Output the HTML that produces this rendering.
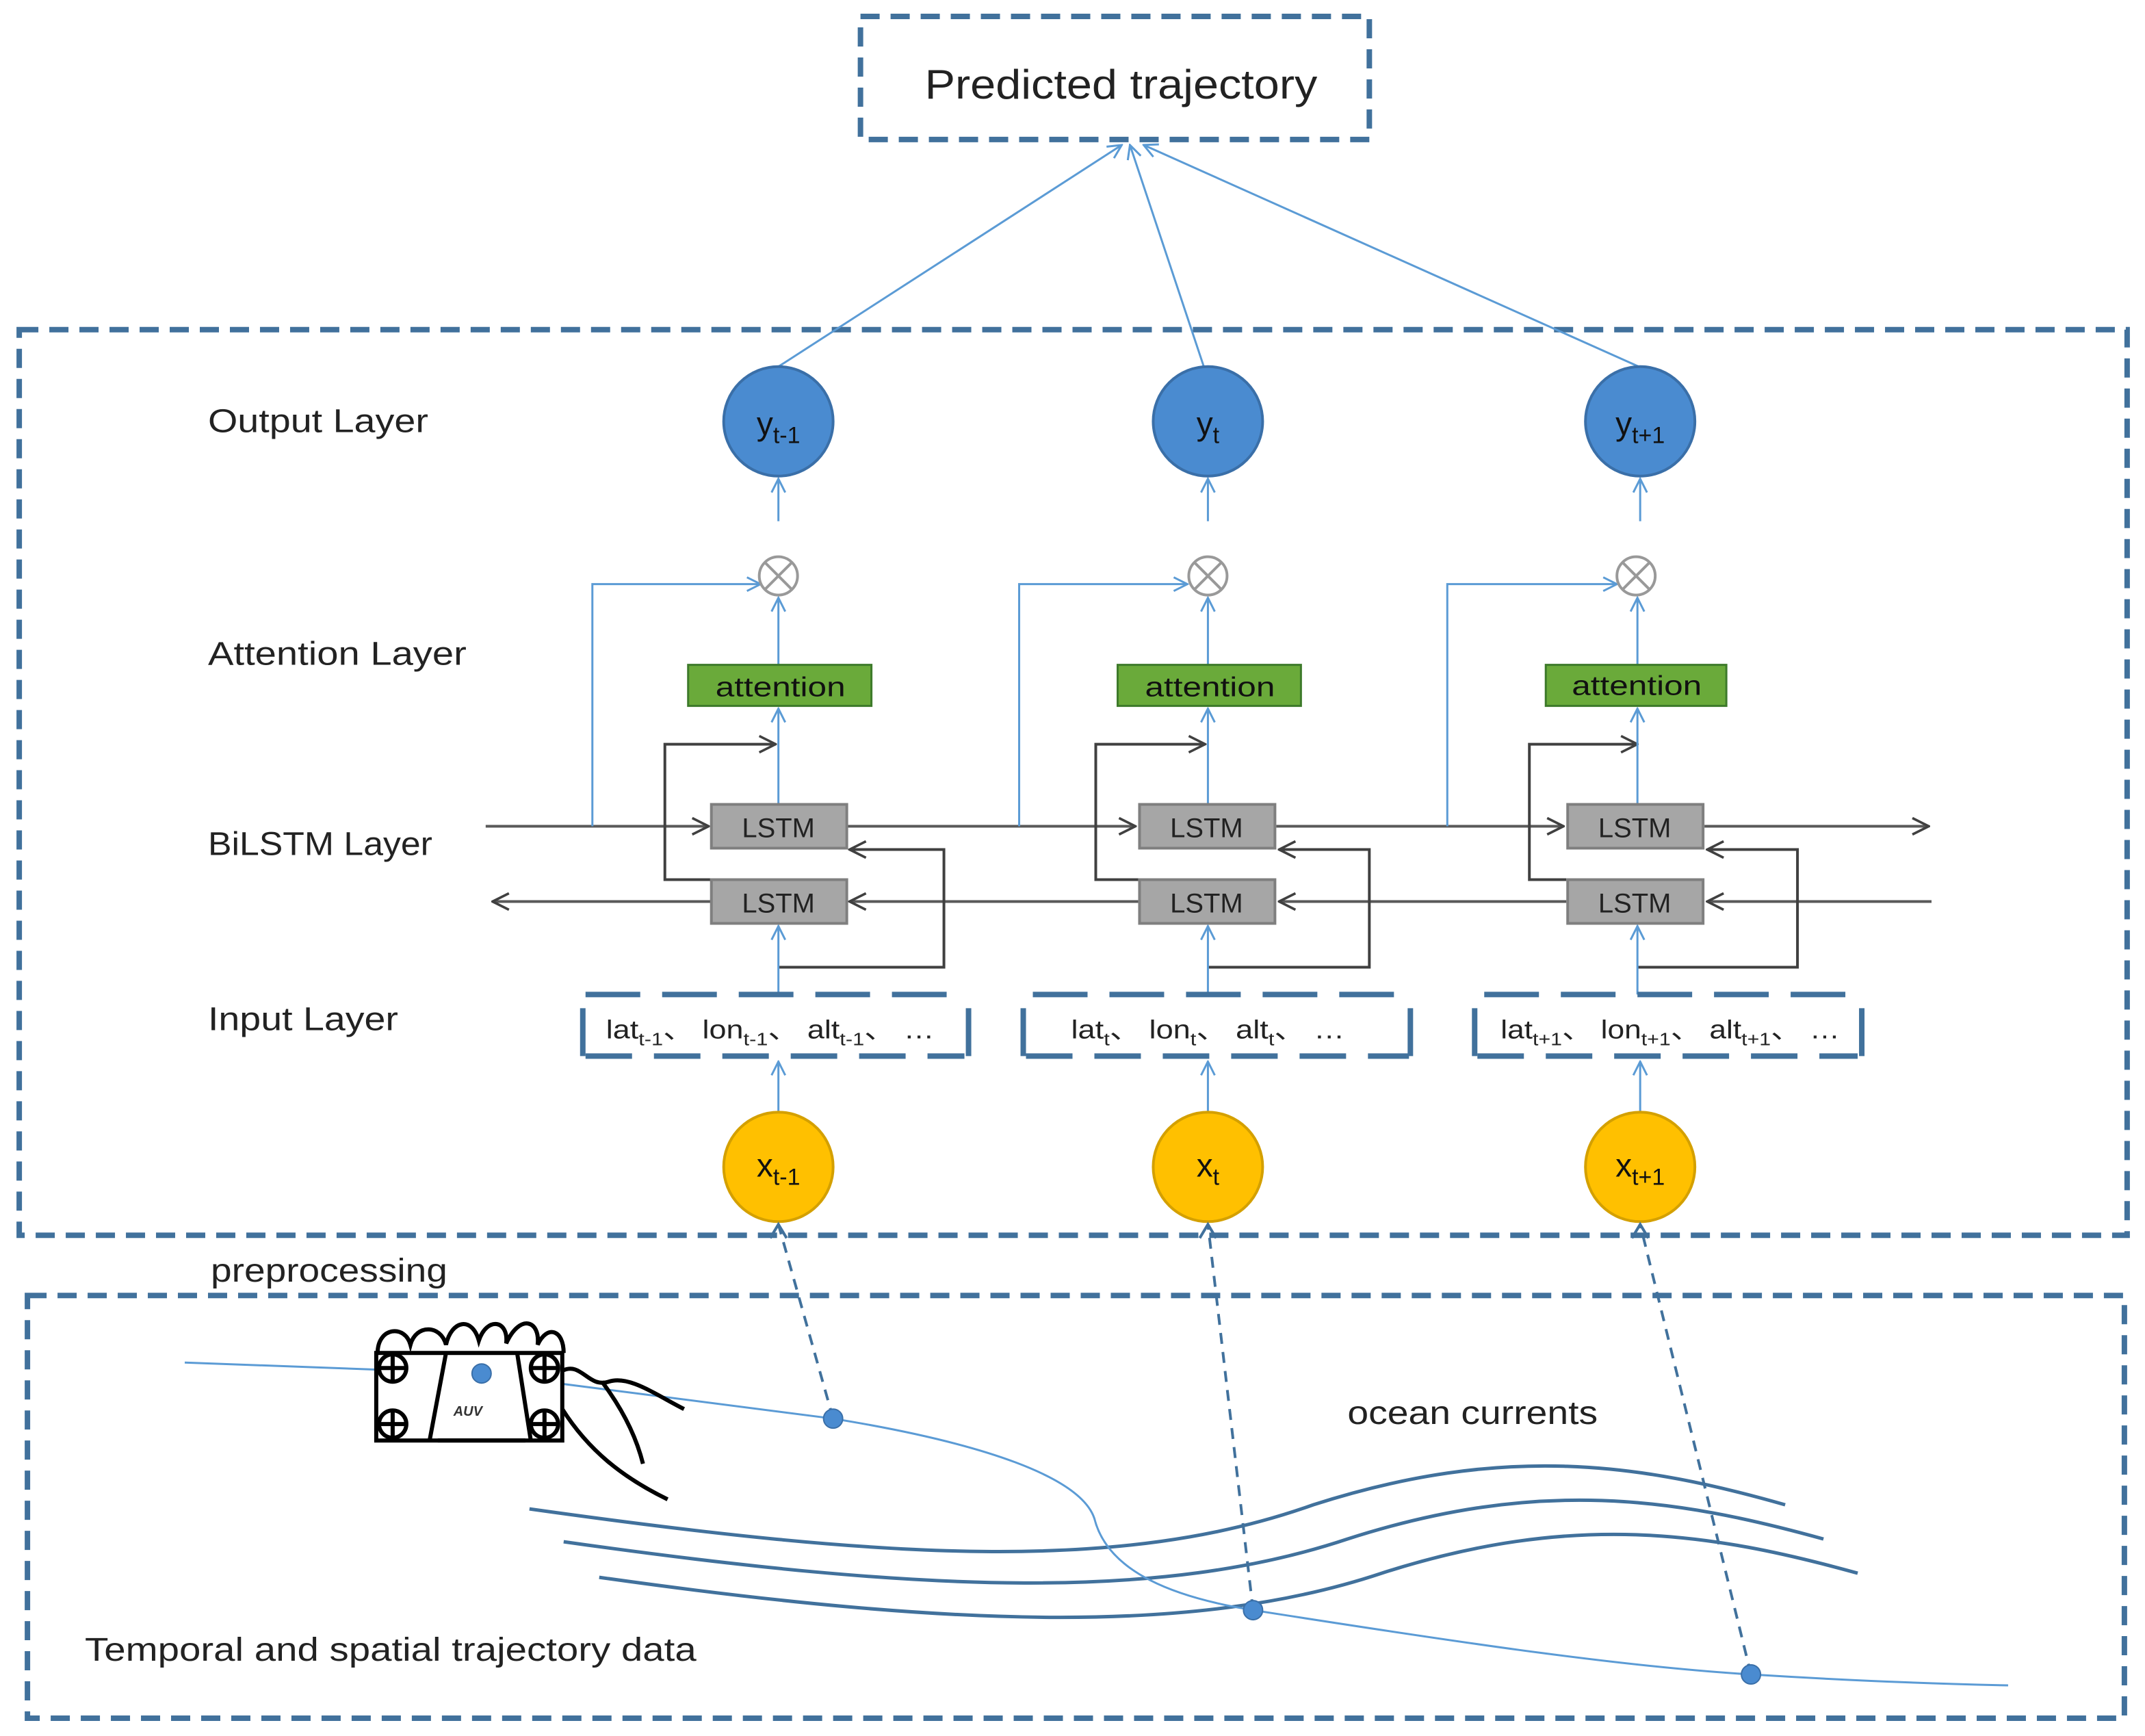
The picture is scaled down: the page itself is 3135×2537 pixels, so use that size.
<!DOCTYPE html>
<html><head><meta charset="utf-8"><style>html,body{margin:0;padding:0;background:#fff}svg{display:block}</style></head><body>
<svg width="3135" height="2537" viewBox="0 0 1568 1269" xmlns="http://www.w3.org/2000/svg" font-family="Liberation Sans, sans-serif">
<defs>
<marker id="ab" viewBox="0 0 12 12" refX="11" refY="6" markerWidth="12" markerHeight="12" orient="auto" markerUnits="userSpaceOnUse"><path d="M1,1 L11,6 L1,11" fill="none" stroke="#5b9bd5" stroke-width="1.5"/></marker>
<marker id="ak" viewBox="0 0 14 14" refX="13" refY="7" markerWidth="14" markerHeight="14" orient="auto" markerUnits="userSpaceOnUse"><path d="M1,1 L13,7 L1,13" fill="none" stroke="#404040" stroke-width="1.8"/></marker>
</defs>
<rect width="1568" height="1269" fill="#fff"/>
<g fill="none" stroke="#41719c" stroke-width="4" stroke-dasharray="14,8">
<rect x="629" y="12" width="372" height="90"/>
<rect x="14" y="241" width="1541" height="662"/>
<rect x="20" y="947" width="1533" height="309"/>
</g>
<text x="676" y="72" font-size="30" fill="#222" textLength="287" lengthAdjust="spacingAndGlyphs">Predicted trajectory</text>
<g stroke="#5b9bd5" stroke-width="1.5" fill="none">
<line x1="569" y1="268" x2="820" y2="106" marker-end="url(#ab)"/>
<line x1="880" y1="268" x2="826" y2="106" marker-end="url(#ab)"/>
<line x1="1198" y1="268" x2="836" y2="106" marker-end="url(#ab)"/>
</g>
<g font-size="24" fill="#222" lengthAdjust="spacingAndGlyphs">
<text x="152" y="316" textLength="161" lengthAdjust="spacingAndGlyphs">Output Layer</text>
<text x="152" y="486" textLength="189" lengthAdjust="spacingAndGlyphs">Attention Layer</text>
<text x="152" y="625" textLength="164" lengthAdjust="spacingAndGlyphs">BiLSTM Layer</text>
<text x="152" y="753" textLength="139" lengthAdjust="spacingAndGlyphs">Input Layer</text>
<text x="154" y="937" textLength="173" lengthAdjust="spacingAndGlyphs">preprocessing</text>
<text x="985" y="1041" textLength="183" lengthAdjust="spacingAndGlyphs">ocean currents</text>
<text x="62" y="1214" textLength="447" lengthAdjust="spacingAndGlyphs">Temporal and spatial trajectory data</text>
</g>
<g stroke="#595959" stroke-width="2" fill="none">
<line x1="355" y1="604" x2="518" y2="604" marker-end="url(#ak)"/>
<line x1="619" y1="604" x2="830" y2="604" marker-end="url(#ak)"/>
<line x1="933" y1="604" x2="1143" y2="604" marker-end="url(#ak)"/>
<line x1="1246" y1="604" x2="1410" y2="604" marker-end="url(#ak)"/>
<line x1="1412" y1="659" x2="1248" y2="659" marker-end="url(#ak)"/>
<line x1="1145" y1="659" x2="935" y2="659" marker-end="url(#ak)"/>
<line x1="832" y1="659" x2="621" y2="659" marker-end="url(#ak)"/>
<line x1="520" y1="659" x2="360" y2="659" marker-end="url(#ak)"/>
</g>
<g id="c1">
<path d="M433,604 V427 H556" stroke="#5b9bd5" stroke-width="1.5" fill="none" marker-end="url(#ab)"/>
<path d="M520,643 H486 V544 H567" stroke="#404040" stroke-width="2" fill="none" marker-end="url(#ak)"/>
<path d="M569,707 H690 V621 H621" stroke="#404040" stroke-width="2" fill="none" marker-end="url(#ak)"/>
<g stroke="#5b9bd5" stroke-width="1.5" fill="none">
<line x1="569" y1="381" x2="569" y2="350" marker-end="url(#ab)"/>
<line x1="569" y1="486" x2="569" y2="437" marker-end="url(#ab)"/>
<line x1="569" y1="588" x2="569" y2="518" marker-end="url(#ab)"/>
<line x1="569" y1="727" x2="569" y2="677" marker-end="url(#ab)"/>
<line x1="569" y1="813" x2="569" y2="776" marker-end="url(#ab)"/>
</g>
<circle cx="569" cy="308" r="40" fill="#4a8bd0" stroke="#3a6fa8" stroke-width="2"/>
<text x="569" y="318" font-size="24" text-anchor="middle" fill="#111">y<tspan font-size="17" dy="6">t-1</tspan></text>
<circle cx="569" cy="421" r="14" fill="#fff" stroke="#999" stroke-width="2"/>
<path d="M559,411 L579,431 M579,411 L559,431" stroke="#999" stroke-width="2"/>
<rect x="503" y="486" width="134" height="30" fill="#6aaa3a" stroke="#3d7a2a" stroke-width="1.5"/>
<text x="523" y="509" font-size="20" fill="#111" textLength="95" lengthAdjust="spacingAndGlyphs">attention</text>
<rect x="520" y="588" width="99" height="32" fill="#a6a6a6" stroke="#7f7f7f" stroke-width="2"/>
<text x="569" y="612" font-size="20" text-anchor="middle" fill="#222">LSTM</text>
<rect x="520" y="643" width="99" height="32" fill="#a6a6a6" stroke="#7f7f7f" stroke-width="2"/>
<text x="569" y="667" font-size="20" text-anchor="middle" fill="#222">LSTM</text>
<g fill="none" stroke="#41719c" stroke-width="4">
<line x1="428" y1="727" x2="705" y2="727" stroke-dasharray="40,16"/>
<line x1="428" y1="772" x2="705" y2="772" stroke-dasharray="34,16"/>
<line x1="426" y1="737" x2="426" y2="772"/>
<line x1="708" y1="737" x2="708" y2="772"/>
</g>
<text x="443" y="759" font-size="19" fill="#222" textLength="240" lengthAdjust="spacingAndGlyphs">lat<tspan font-size="13" dy="5">t-1</tspan><tspan dy="-5">、 lon</tspan><tspan font-size="13" dy="5">t-1</tspan><tspan dy="-5">、 alt</tspan><tspan font-size="13" dy="5">t-1</tspan><tspan dy="-5">、  …</tspan></text>
<circle cx="569" cy="853" r="40" fill="#ffc000" stroke="#d4a000" stroke-width="2"/>
<text x="569" y="860" font-size="24" text-anchor="middle" fill="#111">x<tspan font-size="17" dy="6">t-1</tspan></text>
</g>
<g id="c2">
<path d="M745,604 V427 H868" stroke="#5b9bd5" stroke-width="1.5" fill="none" marker-end="url(#ab)"/>
<path d="M832,643 H801 V544 H881" stroke="#404040" stroke-width="2" fill="none" marker-end="url(#ak)"/>
<path d="M883,707 H1001 V621 H935" stroke="#404040" stroke-width="2" fill="none" marker-end="url(#ak)"/>
<g stroke="#5b9bd5" stroke-width="1.5" fill="none">
<line x1="883" y1="381" x2="883" y2="350" marker-end="url(#ab)"/>
<line x1="883" y1="486" x2="883" y2="437" marker-end="url(#ab)"/>
<line x1="883" y1="588" x2="883" y2="518" marker-end="url(#ab)"/>
<line x1="883" y1="727" x2="883" y2="677" marker-end="url(#ab)"/>
<line x1="883" y1="813" x2="883" y2="776" marker-end="url(#ab)"/>
</g>
<circle cx="883" cy="308" r="40" fill="#4a8bd0" stroke="#3a6fa8" stroke-width="2"/>
<text x="883" y="318" font-size="24" text-anchor="middle" fill="#111">y<tspan font-size="17" dy="6">t</tspan></text>
<circle cx="883" cy="421" r="14" fill="#fff" stroke="#999" stroke-width="2"/>
<path d="M873,411 L893,431 M893,411 L873,431" stroke="#999" stroke-width="2"/>
<rect x="817" y="486" width="134" height="30" fill="#6aaa3a" stroke="#3d7a2a" stroke-width="1.5"/>
<text x="837" y="509" font-size="20" fill="#111" textLength="95" lengthAdjust="spacingAndGlyphs">attention</text>
<rect x="833" y="588" width="99" height="32" fill="#a6a6a6" stroke="#7f7f7f" stroke-width="2"/>
<text x="882" y="612" font-size="20" text-anchor="middle" fill="#222">LSTM</text>
<rect x="833" y="643" width="99" height="32" fill="#a6a6a6" stroke="#7f7f7f" stroke-width="2"/>
<text x="882" y="667" font-size="20" text-anchor="middle" fill="#222">LSTM</text>
<g fill="none" stroke="#41719c" stroke-width="4">
<line x1="755" y1="727" x2="1030" y2="727" stroke-dasharray="40,16"/>
<line x1="750" y1="772" x2="1030" y2="772" stroke-dasharray="34,16"/>
<line x1="748" y1="737" x2="748" y2="772"/>
<line x1="1031" y1="737" x2="1031" y2="772"/>
</g>
<text x="783" y="759" font-size="19" fill="#222" textLength="200" lengthAdjust="spacingAndGlyphs">lat<tspan font-size="13" dy="5">t</tspan><tspan dy="-5">、 lon</tspan><tspan font-size="13" dy="5">t</tspan><tspan dy="-5">、 alt</tspan><tspan font-size="13" dy="5">t</tspan><tspan dy="-5">、  …</tspan></text>
<circle cx="883" cy="853" r="40" fill="#ffc000" stroke="#d4a000" stroke-width="2"/>
<text x="883" y="860" font-size="24" text-anchor="middle" fill="#111">x<tspan font-size="17" dy="6">t</tspan></text>
</g>
<g id="c3">
<path d="M1058,604 V427 H1182" stroke="#5b9bd5" stroke-width="1.5" fill="none" marker-end="url(#ab)"/>
<path d="M1145,643 H1118 V544 H1197" stroke="#404040" stroke-width="2" fill="none" marker-end="url(#ak)"/>
<path d="M1197,707 H1314 V621 H1248" stroke="#404040" stroke-width="2" fill="none" marker-end="url(#ak)"/>
<g stroke="#5b9bd5" stroke-width="1.5" fill="none">
<line x1="1199" y1="381" x2="1199" y2="350" marker-end="url(#ab)"/>
<line x1="1197" y1="486" x2="1197" y2="437" marker-end="url(#ab)"/>
<line x1="1197" y1="588" x2="1197" y2="518" marker-end="url(#ab)"/>
<line x1="1197" y1="727" x2="1197" y2="677" marker-end="url(#ab)"/>
<line x1="1199" y1="813" x2="1199" y2="776" marker-end="url(#ab)"/>
</g>
<circle cx="1199" cy="308" r="40" fill="#4a8bd0" stroke="#3a6fa8" stroke-width="2"/>
<text x="1199" y="318" font-size="24" text-anchor="middle" fill="#111">y<tspan font-size="17" dy="6">t+1</tspan></text>
<circle cx="1196" cy="421" r="14" fill="#fff" stroke="#999" stroke-width="2"/>
<path d="M1186,411 L1206,431 M1206,411 L1186,431" stroke="#999" stroke-width="2"/>
<rect x="1130" y="486" width="132" height="30" fill="#6aaa3a" stroke="#3d7a2a" stroke-width="1.5"/>
<text x="1149" y="508" font-size="20" fill="#111" textLength="95" lengthAdjust="spacingAndGlyphs">attention</text>
<rect x="1146" y="588" width="99" height="32" fill="#a6a6a6" stroke="#7f7f7f" stroke-width="2"/>
<text x="1195" y="612" font-size="20" text-anchor="middle" fill="#222">LSTM</text>
<rect x="1146" y="643" width="99" height="32" fill="#a6a6a6" stroke="#7f7f7f" stroke-width="2"/>
<text x="1195" y="667" font-size="20" text-anchor="middle" fill="#222">LSTM</text>
<g fill="none" stroke="#41719c" stroke-width="4">
<line x1="1085" y1="727" x2="1358" y2="727" stroke-dasharray="40,16"/>
<line x1="1080" y1="772" x2="1358" y2="772" stroke-dasharray="34,16"/>
<line x1="1078" y1="737" x2="1078" y2="772"/>
<line x1="1361" y1="737" x2="1361" y2="772"/>
</g>
<text x="1097" y="759" font-size="19" fill="#222" textLength="248" lengthAdjust="spacingAndGlyphs">lat<tspan font-size="13" dy="5">t+1</tspan><tspan dy="-5">、 lon</tspan><tspan font-size="13" dy="5">t+1</tspan><tspan dy="-5">、 alt</tspan><tspan font-size="13" dy="5">t+1</tspan><tspan dy="-5">、 …</tspan></text>
<circle cx="1199" cy="853" r="40" fill="#ffc000" stroke="#d4a000" stroke-width="2"/>
<text x="1199" y="860" font-size="24" text-anchor="middle" fill="#111">x<tspan font-size="17" dy="6">t+1</tspan></text>
</g>
<g stroke="#41719c" stroke-width="2" stroke-dasharray="8,6" fill="none">
<line x1="609" y1="1037" x2="569" y2="895"/>
<line x1="916" y1="1177" x2="883" y2="895"/>
<line x1="1280" y1="1224" x2="1199" y2="895"/>
</g>
<g stroke="#41719c" stroke-width="2" fill="none">
<path d="M563,905 L569,895 L575,905"/><path d="M877,905 L883,895 L889,905"/><path d="M1193,905 L1199,895 L1205,905"/>
</g>
<g stroke="#41719c" stroke-width="2.5" fill="none">
<path d="M387,1103 C650,1140 820,1150 960,1100 C1100,1055 1200,1070 1305,1100"/>
<path d="M412,1127 C680,1165 850,1170 985,1125 C1125,1080 1225,1095 1333,1125"/>
<path d="M438,1153 C700,1190 875,1195 1010,1150 C1150,1105 1250,1120 1358,1150"/>
</g>
<path d="M135,996 L352,1004 L609,1037 C720,1055 790,1080 800,1110 C810,1150 860,1168 916,1177 C1050,1198 1180,1218 1280,1224 C1360,1229 1420,1231 1468,1232" stroke="#5b9bd5" stroke-width="1.5" fill="none"/>
<g fill="#4a8bd0" stroke="#3a6fa8" stroke-width="1"><circle cx="609" cy="1037" r="7"/><circle cx="916" cy="1177" r="7"/><circle cx="1280" cy="1224" r="7"/></g>
<g stroke="#000" stroke-width="3" fill="none">
<path d="M276,989 C276,970 296,968 300,983 C304,968 322,968 326,983 C330,965 345,962 350,980 C356,962 372,965 370,982 C380,960 395,965 393,983 C400,968 412,972 412,989"/>
<rect x="275" y="989" width="136" height="64" fill="#fff"/>
<path d="M326,989 L314,1053 M378,989 L388,1053 M320,1053 L384,1053"/>
<circle cx="287" cy="1000" r="10"/><circle cx="287" cy="1041" r="10"/><circle cx="398" cy="1000" r="10"/><circle cx="398" cy="1041" r="10"/>
<path d="M277,1000 H297 M287,990 V1010 M277,1041 H297 M287,1031 V1051 M388,1000 H408 M398,990 V1010 M388,1041 H408 M398,1031 V1051"/>
<path d="M411,1002 C425,995 430,1015 445,1010 C460,1005 480,1020 500,1030"/>
<path d="M440,1010 C455,1030 465,1050 470,1070"/>
<path d="M411,1030 C430,1060 455,1080 488,1096"/>
</g>
<text x="342" y="1035" font-size="10" font-weight="bold" font-style="italic" text-anchor="middle" fill="#333">AUV</text>
<circle cx="352" cy="1004" r="7" fill="#4a8bd0" stroke="#3a6fa8"/>
</svg>
</body></html>
